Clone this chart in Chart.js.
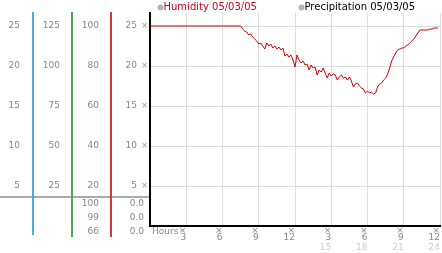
<!DOCTYPE html>
<html><head><meta charset="utf-8">
<script src="https://cdn.jsdelivr.net/npm/chart.js@4/dist/chart.umd.min.js"></script>
<style>html,body{margin:0;padding:0;background:#fff;}canvas{display:block;}</style>
</head><body>
<canvas id="c" width="442" height="253"></canvas>
<script>
// ---- data (time in minutes since midnight, humidity in %) ----
const minutes = [0, 120, 240, 360,
  450, 460, 470, 480, 490, 500, 510, 520, 530, 540, 550, 560, 570, 580, 590,
  600, 610, 620, 630, 640, 650, 660, 670, 680, 690, 700, 710, 720, 730, 740, 750, 760, 770, 780, 790,
  800, 810, 820, 830, 840, 850, 860, 870, 880, 890, 900, 910, 920, 930, 940, 950, 960, 970, 980, 990,
  1000, 1010, 1020, 1030, 1040, 1050, 1060, 1070, 1080, 1090, 1100, 1110, 1120, 1130, 1140, 1150, 1160, 1170, 1180, 1190,
  1200, 1210, 1220, 1230, 1240, 1250, 1260, 1270, 1280, 1290, 1300, 1310, 1320, 1330, 1340, 1350, 1360, 1370, 1380, 1390,
  1400, 1410, 1420, 1430];
const humidity = [100, 100, 100, 100,
  100, 98.5, 97.5, 97, 95.5, 96, 94.5, 93.5, 92.5, 91, 91.5, 90, 88.5, 91.5, 90,
  91, 89, 90, 88.5, 89.5, 88, 89, 85, 86, 84.5, 85.5, 83, 79.5, 85.5, 83, 81.5, 82.5, 80.5, 81, 78,
  80.5, 79, 79.5, 75.5, 78, 77, 79, 76.5, 74, 76.5, 75, 76, 75.5, 73, 74.5, 75.5, 74, 74.5, 73, 74.5,
  72.5, 69.5, 71, 71.5, 70, 69, 68.5, 66.5, 67.5, 66.5, 67, 66, 66.5, 69.5, 71, 71.5, 73, 74, 76, 79,
  82.5, 84.5, 86.5, 88, 88.5, 89, 89, 90, 90.5, 91.5, 92.5, 93.5, 95, 96.5, 98, 98, 98, 98, 98, 98.5,
  98.5, 99, 99, 99];
const precipMinutes = [0, 360, 720, 1080, 1430];
const precipitation = [0, 0, 0, 0, 0];
const seriesLabels = ['Humidity 05/03/05', 'Precipitation 05/03/05'];
const xTickValues = [3, 6, 9, 12, 15, 18, 21, 24];
const xTickLabels = ['3', '6', '9', '12', '3', '6', '9', '12'];
const x2TickValues = [15, 18, 21, 24];
const x2TickLabels = ['15', '18', '21', '24'];
const yTickValues = [20, 40, 60, 80, 100];
const colATicks = [5, 10, 15, 20, 25];
const colBTicks = [25, 50, 75, 100, 125];
const colCTicks = [20, 40, 60, 80, 100];
const colDTicks = [5, 10, 15, 20, 25];
const xAxisTitle = 'Hours';

// ---- styling ----
const FONT = "'DejaVu Sans', sans-serif";
const HUM_COLOR = '#cc0000';
const TICK_COLOR = '#888';

function fixed(values) { return s => { s.ticks = values.map(v => ({ value: v })); }; }
function leftAxis(max, values, width, pad, weight) {
  return {
    type: 'linear', position: 'left', min: 0, max: max, weight: weight,
    grid: { display: false, drawTicks: false }, border: { display: false },
    afterBuildTicks: fixed(values),
    afterFit: s => { s.width = width; s.paddingTop = 0; s.paddingBottom = 0; },
    ticks: { padding: pad, color: TICK_COLOR, font: { family: FONT, size: 9 }, callback: v => String(v) }
  };
}

const panelPlugin = {
  id: 'panel',
  afterDraw(chart) {
    const ctx = chart.ctx, ca = chart.chartArea, s = chart.scales;
    ctx.save();
    // separator
    const sepY = ca.bottom - 30;
    ctx.fillStyle = '#aaa';
    ctx.fillRect(0, sepY, ca.left - 1, 2);
    // column lines
    [[s.a, '#55aadd', 9], [s.b, '#4aab4a', 11], [s.c, '#cc3a3a', 11]].forEach(([sc, col, ext]) => {
      ctx.fillStyle = col;
      ctx.fillRect(Math.round(sc.right) - 1, ca.top - 1, 2, ca.bottom + ext - (ca.top - 1));
    });
    // stats table (max, last, min)
    const hStats = [Math.max(...humidity), humidity[humidity.length - 1], Math.min(...humidity)];
    const pStats = [Math.max(...precipitation), precipitation[precipitation.length - 1], Math.min(...precipitation)];
    ctx.font = '9px ' + FONT;
    ctx.fillStyle = TICK_COLOR;
    ctx.textAlign = 'right'; ctx.textBaseline = 'middle';
    for (let i = 0; i < 3; i++) {
      const y = sepY + 8 + i * 14;
      ctx.fillText(String(Math.round(hStats[i])), s.c.right - 12, y);
      ctx.fillText(pStats[i].toFixed(1), ca.left - 6, y);
    }
    // axis title
    ctx.textAlign = 'left';
    ctx.fillText(xAxisTitle, ca.left + 2, ca.bottom + 6);
    // legend
    ctx.font = '10px ' + FONT;
    const items = [[158, chart.data.datasets[0]], [299, chart.data.datasets[1]]];
    items.forEach(([lx, ds]) => {
      ctx.beginPath();
      ctx.arc(lx + 2.5, 7.5, 2.5, 0, Math.PI * 2);
      ctx.fillStyle = '#bbb'; ctx.fill();
      ctx.strokeStyle = '#999'; ctx.lineWidth = 0.8; ctx.stroke();
      ctx.fillStyle = ds.legendColor;
      ctx.textAlign = 'left'; ctx.textBaseline = 'middle';
      ctx.fillText(ds.label, lx + 5.5, 7.5);
    });
    ctx.restore();
  }
};

new Chart(document.getElementById('c'), {
  type: 'line',
  data: {
    datasets: [
      { label: seriesLabels[0], legendColor: '#c80020', data: minutes.map((m, i) => ({ x: m / 60, y: humidity[i] })),
        borderColor: HUM_COLOR, borderWidth: 1, pointRadius: 0, tension: 0, xAxisID: 'x', yAxisID: 'y' },
      { label: seriesLabels[1], legendColor: '#000', data: precipMinutes.map((m, i) => ({ x: m / 60, y: precipitation[i] })),
        borderColor: '#000', borderWidth: 1, pointRadius: 0, tension: 0, xAxisID: 'x', yAxisID: 'y' }
    ]
  },
  options: {
    responsive: false, animation: false, devicePixelRatio: 1,
    layout: { padding: { top: 13, right: 2, left: 0, bottom: 0 } },
    plugins: { legend: { display: false }, tooltip: { enabled: false } },
    scales: {
      x: {
        type: 'linear', position: 'bottom', min: 0, max: 24, weight: 0,
        grid: { color: '#ddd', drawTicks: false, lineWidth: 1 },
        border: { color: '#000', width: 2 },
        afterBuildTicks: fixed(xTickValues),
        afterFit: s => { s.height = 16; s.paddingLeft = 0; s.paddingRight = 0; },
        ticks: { autoSkip: false, maxRotation: 0, padding: 1, align: 'end', color: TICK_COLOR,
          font: { family: FONT, size: 9, lineHeight: '7px' },
          callback: v => ['×', xTickLabels[xTickValues.indexOf(v)]] }
      },
      x2: {
        type: 'linear', position: 'bottom', min: 0, max: 24, weight: 1,
        grid: { display: false, drawTicks: false }, border: { display: false },
        afterBuildTicks: fixed(x2TickValues),
        afterFit: s => { s.height = 11; s.paddingLeft = 0; s.paddingRight = 0; },
        ticks: { autoSkip: false, maxRotation: 0, padding: 0, align: 'end', color: '#ccc',
          font: { family: FONT, size: 9 }, callback: v => x2TickLabels[x2TickValues.indexOf(v)] }
      },
      y: {
        type: 'linear', position: 'left', min: 0, max: 106.5, weight: 0,
        grid: { color: '#ddd', drawTicks: false },
        border: { color: '#000', width: 2 },
        afterBuildTicks: fixed(yTickValues),
        afterFit: s => { s.width = 12; s.paddingTop = 0; s.paddingBottom = 0; },
        ticks: { padding: 2, color: '#999', font: { family: FONT, size: 8 }, callback: () => '×' }
      },
      d: leftAxis(26.625, colDTicks, 27, 1, 1),
      c: leftAxis(106.5, colCTicks, 39, 12, 2),
      b: leftAxis(133.125, colBTicks, 39, 12, 3),
      a: leftAxis(26.625, colATicks, 33, 13, 4)
    }
  },
  plugins: [panelPlugin]
});
</script>
</body></html>
